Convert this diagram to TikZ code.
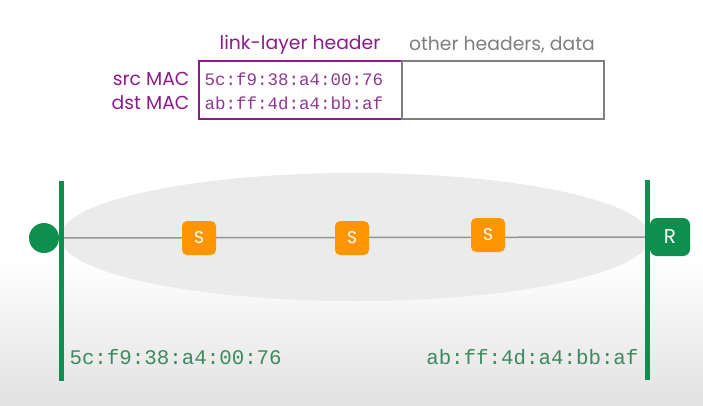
\documentclass[tikz,border=0pt]{standalone}
\usepackage{fontspec}
\setmainfont{Poppins}
\setmonofont{Liberation Mono}
\definecolor{hdrpurple}{HTML}{8A1C8C}
\definecolor{txtpurple}{HTML}{8E3A91}
\definecolor{boxgray}{HTML}{7F7F7F}
\definecolor{lanfill}{HTML}{EBEBEC}
\definecolor{netgreen}{HTML}{0E8F4E}
\definecolor{macgreen}{HTML}{3C8A5E}
\definecolor{swor}{HTML}{FF9500}
\definecolor{linegray}{HTML}{959595}
\definecolor{bgbot}{HTML}{E2E2E2}
\begin{document}
\begin{tikzpicture}[x=1pt,y=-1pt,
  hdr/.style={font=\fontsize{18.8}{20}\selectfont},
  mac/.style={font=\ttfamily\fontsize{17.5}{19}\selectfont, text=txtpurple, anchor=west},
  bmac/.style={font=\ttfamily\fontsize{20.8}{22}\selectfont, text=macgreen},
  swnode/.style={fill=swor, rounded corners=5pt, minimum width=34pt, minimum height=34pt, inner sep=0pt, text=white, font=\fontsize{17}{18}\selectfont},
  bar/.style={netgreen, line width=5pt}
]
\useasboundingbox (0,0) rectangle (703,405);
\fill[white] (0,0) rectangle (703,260);
\shade[top color=white, bottom color=bgbot] (0,260) rectangle (703,405);
% LAN ellipse
\fill[lanfill] (355,237) ellipse [x radius=295, y radius=64];
% header boxes
\node[draw=hdrpurple, line width=2.5pt, minimum width=203pt, minimum height=58pt, inner sep=0pt] (lh) at (300.5,90) {};
\node[draw=boxgray, line width=2.5pt, minimum width=202pt, minimum height=58pt, inner sep=0pt] (oh) at (503,90) {};
\node[hdr, text=hdrpurple] (lhl) at (300,45) {link-layer header};
\node[hdr, text=boxgray] (ohl) at (502,45) {other headers, data};
\node[hdr, text=hdrpurple, anchor=east] (src) at (193,79) {src MAC};
\node[hdr, text=hdrpurple, anchor=east] (dst) at (193,103) {dst MAC};
\node[mac] (srcv) at (201,79) {5c:f9:38:a4:00:76};
\node[mac] (dstv) at (201,103) {ab:ff:4d:a4:bb:af};
% link line and devices
\node[circle, fill=netgreen, minimum size=30pt, inner sep=0pt] (host) at (44,238) {};
\node[fill=netgreen, rounded corners=7pt, minimum width=40pt, minimum height=38pt, inner sep=0pt, text=white, font=\fontsize{20}{21}\selectfont] (rtr) at (670,237) {R};
\draw[linegray, line width=1.5pt] (host) -- (rtr);
\node[swnode] (s1) at (199,238) {S};
\node[swnode] (s2) at (352,238) {S};
\node[swnode] (s3) at (488,235) {S};
\coordinate (lt) at (61,181);
\coordinate (lb) at (61,381);
\coordinate (rt) at (647,180);
\coordinate (rb) at (647,380);
\draw[bar] (lt) -- (lb);
\draw[bar] (rt) -- (rb);
\node[bmac, anchor=west] (hmac) at (66,357) {5c:f9:38:a4:00:76};
\node[bmac, anchor=east] (rmac) at (642,357) {ab:ff:4d:a4:bb:af};
\end{tikzpicture}
\end{document}
